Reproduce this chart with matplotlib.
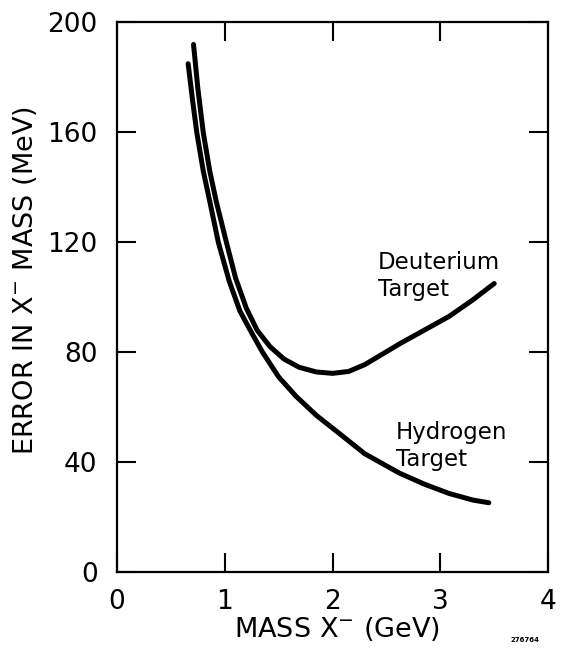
import matplotlib

matplotlib.use("Agg")
import matplotlib.pyplot as plt

# values
hydrogen_mass = [0.66, 0.70, 0.74, 0.80, 0.86, 0.94, 1.04, 1.14, 1.25, 1.35, 1.50, 1.66,
                 1.85, 2.06, 2.30, 2.62, 2.85, 3.08, 3.30, 3.45]
hydrogen_err = [185, 172, 160, 146, 135, 120, 106, 95, 87, 80, 71, 64,
                57, 50.5, 43, 36, 32, 28.6, 26.2, 25.2]

deuterium_mass = [0.71, 0.75, 0.80, 0.86, 0.92, 1.015, 1.10, 1.20, 1.30, 1.42, 1.55, 1.69,
                  1.85, 2.00, 2.15, 2.30, 2.45, 2.62, 2.85, 3.08, 3.30, 3.50]
deuterium_err = [192, 176, 160, 146, 135, 120, 107, 96, 88, 82, 77.5, 74.5,
                 72.8, 72.3, 73, 75.5, 79, 83, 88, 93, 99, 105]

x_ticks = [0, 1, 2, 3, 4]
y_ticks = [0, 40, 80, 120, 160, 200]

plt.rcParams["font.family"] = ["DejaVu Sans"]

fig = plt.figure(figsize=(5.61, 6.52), dpi=100)
ax = fig.add_axes([0.2086, 0.1227, 0.7684, 0.8428])

line_kw = dict(color="black", lw=3.6, solid_capstyle="round", solid_joinstyle="round")
ax.plot(hydrogen_mass, hydrogen_err, **line_kw)
ax.plot(deuterium_mass, deuterium_err, **line_kw)

ax.set_xlim(0, 4)
ax.set_ylim(0, 200)
ax.set_xticks(x_ticks)
ax.set_yticks(y_ticks)
ax.set_xticklabels([str(v) for v in x_ticks])
ax.set_yticklabels([str(v) for v in y_ticks])
ax.tick_params(direction="in", length=14, width=1.5, top=True, right=True,
               labelsize=19, pad=12)
ax.tick_params(axis="y", pad=14)
for spine in ax.spines.values():
    spine.set_linewidth(1.6)

ax.text(2.42, 117, "Deuterium\nTarget", fontsize=16.5, va="top", ha="left", linespacing=1.25)
ax.text(2.59, 55, "Hydrogen\nTarget", fontsize=16.5, va="top", ha="left", linespacing=1.25)

fig.text(0.6, 0.035, r"MASS X$^{-}$ (GeV)", fontsize=19.5, ha="center", va="center")
fig.text(0.045, 0.57, r"ERROR IN X$^{-}$ MASS (MeV)", fontsize=19.5, rotation=90,
         ha="center", va="center")
fig.text(0.91, 0.014, "276764", fontsize=5, fontweight="bold", ha="left", va="bottom")

fig.savefig("out.png", dpi=100)
